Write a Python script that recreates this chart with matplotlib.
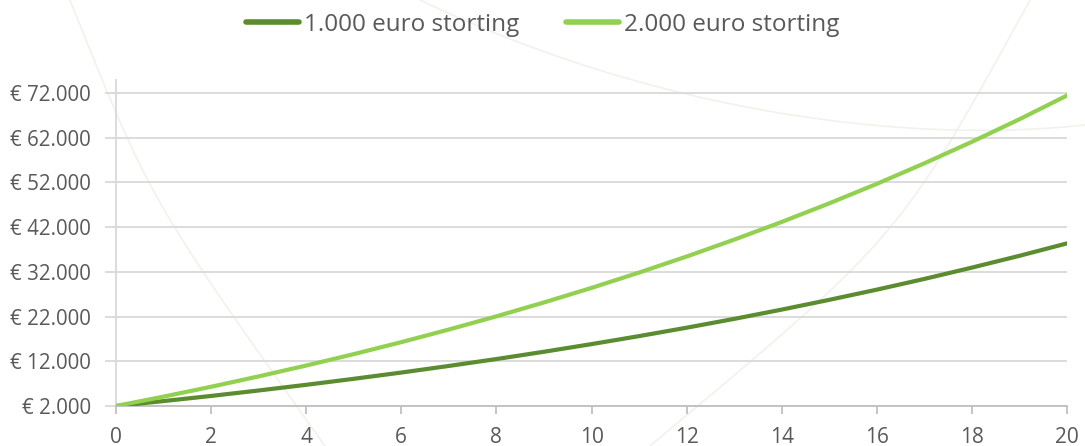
import matplotlib
matplotlib.use("Agg")
import matplotlib.pyplot as plt
import numpy as np
from matplotlib.ticker import FuncFormatter

plt.rcParams['font.family'] = ['Open Sans', 'DejaVu Sans']

jaren = list(range(0, 21))
storting_1000 = [2000, 3100, 4250, 5470, 6740, 8080, 9480, 10960, 12500, 14130,
                 15840, 17630, 19510, 21480, 23560, 25740, 28020, 30420, 32950, 35590, 38370]
storting_2000 = [2000, 4100, 6300, 8620, 11050, 13600, 16280, 19100, 22050, 25160,
                 28410, 31840, 35430, 39200, 43160, 47320, 51680, 56270, 61080, 66130, 71440]
labels = ['1.000 euro storting', '2.000 euro storting']
kleuren = ['#5b8c2f', '#92d050']
y_ticks = list(range(2000, 72001, 10000))
x_ticks = list(range(0, 21, 2))

tekst = '#595959'
grijs = '#d9d9d9'

fig = plt.figure(figsize=(10.85, 4.46), dpi=100)

# vage achtergrondbogen (decoratie)
bg = fig.add_axes([0, 0, 1, 1], zorder=-1)
bg.set_xlim(0, 1085)
bg.set_ylim(446, 0)
bg.axis('off')
t = np.linspace(0, 1, 200)[:, None]
bogen = [
    [(70, 0), (150, 200), (150, 200), (325, 446)],
    [(650, 446), (900, 237), (900, 237), (1030, 0)],
    [(420, 0), (650, 110), (900, 145), (1085, 125)],
]
for p in bogen:
    p = np.array(p, float)
    b = ((1 - t) ** 3) * p[0] + 3 * ((1 - t) ** 2) * t * p[1] + 3 * (1 - t) * t ** 2 * p[2] + t ** 3 * p[3]
    bg.plot(b[:, 0], b[:, 1], color='#f2f2ec', lw=1.2)

ax = fig.add_axes([116/1085, 40/446, (1067-116)/1085, (406-80)/446])
ax.patch.set_alpha(0)

for serie, lab, kl in zip([storting_1000, storting_2000], labels, kleuren):
    ax.plot(jaren, serie, color=kl, lw=3.0, label=lab, solid_capstyle='round', zorder=3)

ax.set_xlim(0, 20)
ax.set_ylim(2000, 2000 + 326 * 70000 / 313)
ax.set_xticks(x_ticks)
ax.set_yticks(y_ticks)

def euro(v, pos):
    return '€ ' + f'{int(v):,}'.replace(',', '.')

ax.yaxis.set_major_formatter(FuncFormatter(euro))
ax.grid(axis='y', color=grijs, lw=1.3)
ax.set_axisbelow(True)
for s in ['top', 'right']:
    ax.spines[s].set_visible(False)
ax.spines['left'].set_color(grijs)
ax.spines['bottom'].set_color('#bfbfbf')
ax.spines['left'].set_linewidth(1.3)
ax.spines['bottom'].set_linewidth(1.3)
ax.tick_params(axis='y', length=8, color=grijs, width=1.3, labelsize=14.8, labelcolor=tekst, pad=10)
ax.tick_params(axis='x', length=6, color='#bfbfbf', width=1.3, labelsize=15, labelcolor=tekst, pad=9)

leg = fig.legend(loc='upper center', bbox_to_anchor=(0.5, 1.02), ncol=2, frameon=False,
                 fontsize=17.5, labelcolor=tekst, handlelength=2.2, handletextpad=0.2,
                 columnspacing=1.9)
for h in leg.legend_handles:
    h.set_linewidth(4)

fig.savefig('out.png', dpi=100)
